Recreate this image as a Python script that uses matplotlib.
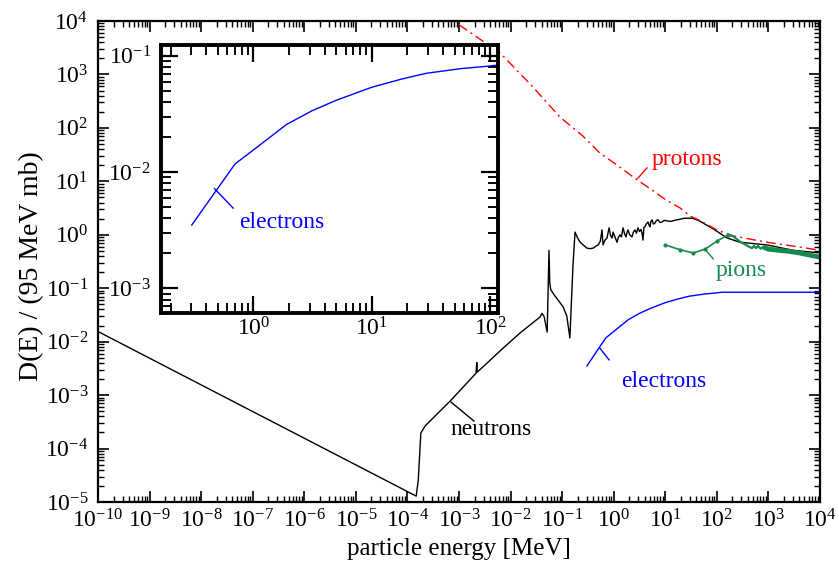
import numpy as np
import matplotlib.pyplot as plt
from matplotlib.ticker import LogLocator, NullFormatter

plt.rcParams['font.family'] = ['Liberation Serif', 'DejaVu Serif']
plt.rcParams['mathtext.fontset'] = 'custom'
plt.rcParams['mathtext.rm'] = 'Liberation Serif'
plt.rcParams['mathtext.it'] = 'Liberation Serif:italic'
plt.rcParams['mathtext.default'] = 'regular'

# damage functions, stored as log10(E / MeV) and log10(D / 95 MeV mb)
neutron_logE = [-10.0, -3.83, -3.79, -3.74, -3.66, -3.16, -2.67, -2.655, -2.645, -2.2,
                -1.82, -1.43, -1.39, -1.35, -1.29, -1.255, -1.24, -1.22, -1.15, -1.08,
                -0.98, -0.91, -0.85, -0.79, -0.75, -0.70, -0.65, -0.58, -0.52, -0.46,
                -0.40, -0.34, -0.30, -0.26, -0.227, -0.207, -0.17, -0.13, -0.09, -0.06,
                -0.03, -0.013, 0.02, 0.064, 0.09, 0.122, 0.15, 0.18, 0.21, 0.238,
                0.26, 0.277, 0.31, 0.355, 0.38, 0.413, 0.44, 0.471, 0.50, 0.53,
                0.549, 0.568, 0.585, 0.607, 0.63, 0.665, 0.69, 0.704, 0.72, 0.743,
                0.77, 0.801, 0.83, 0.859, 0.90, 0.937, 0.98, 1.034, 1.10, 1.23,
                1.38, 1.52, 1.64, 1.75, 1.93, 2.2, 2.45, 2.97, 3.48, 4.0]
neutron_logD = [-1.81, -4.89, -4.59, -3.71, -3.58, -3.10, -2.59, -2.39, -2.57, -2.17,
                -1.84, -1.54, -1.47, -1.53, -1.82, -0.29, -0.90, -1.03, -1.13, -1.22,
                -1.35, -1.52, -1.93, -0.57, 0.05, -0.06, -0.14, -0.20, -0.25, -0.26,
                -0.25, -0.21, -0.19, -0.12, 0.09, -0.19, -0.10, -0.06, 0.13, -0.02,
                -0.06, 0.05, -0.03, -0.14, -0.05, 0.0, -0.04, 0.13, 0.02, -0.04,
                0.05, 0.09, 0.0, -0.04, 0.05, 0.09, 0.03, 0.13, 0.06, 0.10,
                0.03, -0.10, 0.14, 0.15, 0.20, 0.24, 0.17, 0.15, 0.25, 0.28,
                0.20, 0.22, 0.27, 0.28, 0.23, 0.24, 0.27, 0.26, 0.25, 0.28,
                0.31, 0.31, 0.27, 0.21, 0.11, -0.06, -0.14, -0.19, -0.29, -0.34]

proton_logE = [-3.0, -2.2, -1.6, -1.04, -0.6, -0.27, 0.1, 0.45, 0.74, 1.0,
               1.29, 1.48, 1.67, 2.0, 2.31, 2.97, 3.61, 4.0]
proton_logD = [3.93, 3.40, 2.80, 2.20, 1.85, 1.53, 1.28, 1.03, 0.84, 0.66,
               0.50, 0.35, 0.27, 0.09, -0.02, -0.14, -0.23, -0.29]

electron_logE = [-0.52, -0.155, 0.0, 0.28, 0.50, 0.70, 1.0, 1.25, 1.46, 1.75, 2.0, 2.1, 3.0, 4.0]
electron_logD = [-2.455, -1.93, -1.81, -1.59, -1.47, -1.382, -1.27, -1.20, -1.15, -1.11,
                 -1.087, -1.075, -1.075, -1.075]

pion_logE = [1.0, 1.29, 1.54, 1.77, 2.0, 2.22, 2.32, 2.45, 2.6, 2.68, 2.72,
             2.76, 2.80, 2.85, 2.9, 3.0, 3.2, 3.4, 3.6, 3.8, 4.0]
pion_logD = [-0.19, -0.28, -0.34, -0.27, -0.12, 0.0, -0.03, -0.13, -0.21, -0.25, -0.21,
             -0.25, -0.21, -0.26, -0.23, -0.27, -0.29, -0.31, -0.34, -0.38, -0.42]

RED = '#ff0000'
BLUE = '#0000ff'
GREEN = '#168a4c'


def lin(a):
    return np.power(10.0, np.asarray(a))


def style_log_axis(a, spine_w, major_len, minor_len, tick_w, size, xpad=3):
    a.set_xscale('log')
    a.set_yscale('log')
    for axis in (a.xaxis, a.yaxis):
        axis.set_major_locator(LogLocator(base=10, numticks=30))
        axis.set_minor_locator(LogLocator(base=10, subs=np.arange(2, 10), numticks=30))
        axis.set_minor_formatter(NullFormatter())
    a.tick_params(which='both', direction='in', top=True, right=True, labelsize=size)
    a.tick_params(which='major', length=major_len, width=tick_w)
    a.tick_params(which='minor', length=minor_len, width=tick_w * 0.85)
    a.tick_params(axis='x', pad=xpad)
    a.tick_params(axis='y', pad=7)
    for s in a.spines.values():
        s.set_linewidth(spine_w)


fig = plt.figure(figsize=(8.39, 5.72), dpi=100)
ax = fig.add_axes([98 / 839, 70 / 572, 722 / 839, 481 / 572])

ax.plot(lin(neutron_logE), lin(neutron_logD), color='black', lw=1.0)
ax.plot(lin(proton_logE), lin(proton_logD), color=RED, lw=1.0, dashes=(7, 3, 1.5, 3))
ax.plot(lin(electron_logE), lin(electron_logD), color=BLUE, lw=1.0)
ax.plot(lin(pion_logE[:6]), lin(pion_logD[:6]), color=GREEN, lw=1.2, marker='o', markersize=2)
ax.plot(lin(pion_logE[5:]), lin(pion_logD[5:]), color=GREEN, lw=1.6)
tail = [i for i, e in enumerate(pion_logE) if e >= 2.9]
ax.plot(lin([pion_logE[i] for i in tail]), lin([pion_logD[i] for i in tail]),
        color=GREEN, lw=3.5, solid_capstyle='butt')

ax.set_xlim(1e-10, 1e4)
ax.set_ylim(1e-5, 1e4)
style_log_axis(ax, 1.6, 8, 4, 1.2, 17, xpad=5)

ax.set_xlabel('particle energy [MeV]', fontsize=18)
ax.set_ylabel('D(E) / (95 MeV mb)', fontsize=20)
ax.xaxis.set_label_coords(0.5, -0.075)
ax.yaxis.set_label_coords(-0.075, 0.49)

# curve labels with short leader lines
ax.plot(lin([0.47, 0.645]), lin([1.06, 1.25]), color=RED, lw=1.0)
ax.text(lin(0.74), lin(1.40), 'protons', color=RED, fontsize=17, va='center')

ax.plot(lin([-0.27, -0.09]), lin([-2.12, -2.34]), color=BLUE, lw=1.0)
ax.text(lin(0.14), lin(-2.74), 'electrons', color=BLUE, fontsize=17, va='center')

ax.plot(lin([-3.155, -2.71]), lin([-3.13, -3.485]), color='black', lw=1.0)
ax.text(lin(-3.17), lin(-3.65), 'neutrons', color='black', fontsize=17, va='center')

ax.plot(lin([1.77, 1.93]), lin([-0.27, -0.45]), color=GREEN, lw=1.0)
ax.text(lin(1.98), lin(-0.66), 'pions', color=GREEN, fontsize=17, va='center')

# inset: electrons on a zoomed scale
ins = fig.add_axes([160.7 / 839, (572 - 313.3) / 572, 337.6 / 839, 268.3 / 572])
ins.plot(lin(electron_logE), lin(electron_logD), color=BLUE, lw=1.0)
ins.set_xlim(0.165, 117)
ins.set_ylim(6.1e-4, 0.124)
style_log_axis(ins, 2.8, 12, 7, 1.6, 17)
ins.plot([0.47, 0.675], [7.2e-3, 4.9e-3], color=BLUE, lw=1.0)
ins.text(0.76, 3.7e-3, 'electrons', color=BLUE, fontsize=17, va='center')

fig.savefig('out.png', dpi=100)
